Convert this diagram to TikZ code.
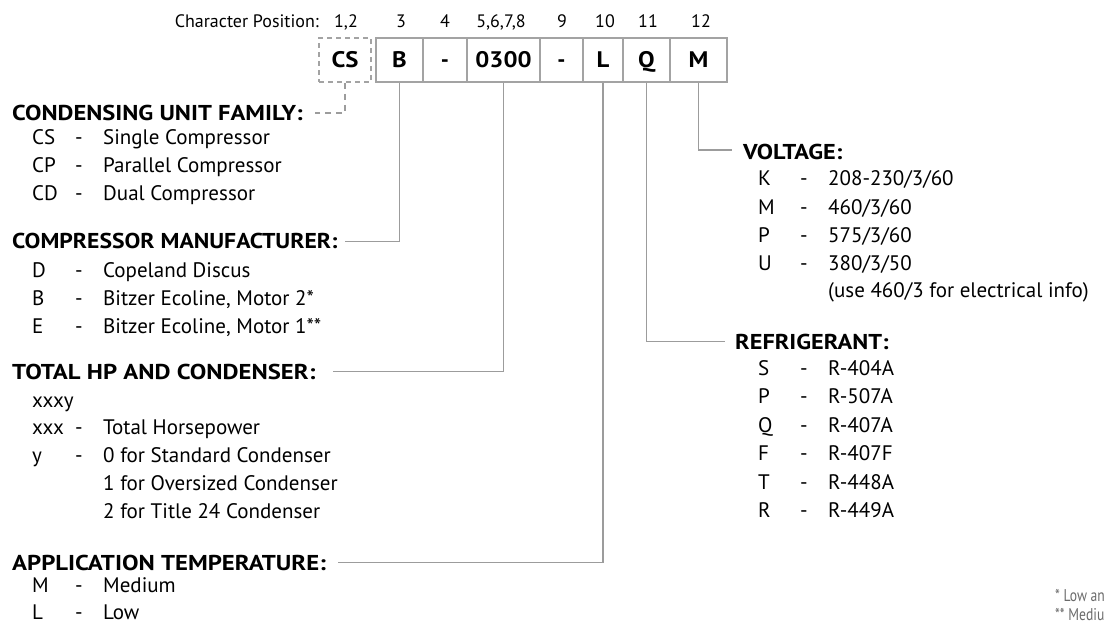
\documentclass[tikz,border=0pt]{standalone}
\usepackage{fontspec}
\setmainfont{PT Sans}
\definecolor{lgray}{HTML}{9C9C9C}
\definecolor{bgray}{HTML}{A3A3A3}
\definecolor{fgray}{HTML}{6A6A6A}
\newcommand\myrow[7]{%
  \node[txt] (#1a) at (#2,#5) {#6};
  \node[txt] (#1b) at (#3,#5) {-};
  \node[txt] (#1c) at (#4,#5) {#7};}
\newcommand\wide[2][1.13]{\scalebox{#1}[1]{#2}}
\begin{document}
\begin{tikzpicture}[x=1pt,y=-1pt,
  txt/.style={anchor=west, inner sep=0pt, font=\fontsize{21}{24}\selectfont, text height=14.5pt, text depth=0pt},
  ttl/.style={anchor=west, inner sep=0pt, font=\fontsize{21.5}{24}\selectfont\bfseries, text height=15pt, text depth=0pt},
  poslbl/.style={anchor=center, inner sep=0pt, font=\fontsize{18}{20}\selectfont, text height=12.5pt, text depth=0pt},
  cell/.style={draw=bgray, line width=1.7pt, minimum height=44pt, inner sep=0pt, font=\fontsize{22.5}{24}\selectfont\bfseries, text height=15.5pt, text depth=0pt},
  dcell/.style={cell, dash pattern=on 5pt off 4pt},
  conn/.style={draw=lgray, line width=1.5pt},
  dconn/.style={conn, dash pattern=on 6pt off 5pt},
  foot/.style={anchor=west, inner sep=0pt, text=fgray, font=\fontsize{17}{18}\selectfont, text height=12pt, text depth=0pt}]
\useasboundingbox (0,0) rectangle (1105,624);

% code boxes
\node[dcell, minimum width=52pt] (cCS) at (345,60) {\scalebox{1.1}[1]{CS}};
\node[cell, minimum width=47pt] (cB) at (399.5,60) {\scalebox{1.1}[1]{B}};
\node[cell, minimum width=44pt] (cD1) at (445,60) {-};
\node[cell, minimum width=73pt] (c0300) at (503.5,60) {\scalebox{1.1}[1]{0300}};
\node[cell, minimum width=43pt] (cD2) at (561.5,60) {-};
\node[cell, minimum width=40pt] (cL) at (603,60) {\scalebox{1.1}[1]{L}};
\node[cell, minimum width=47pt] (cQ) at (646.5,60) {\scalebox{1.1}[1]{Q}};
\node[cell, minimum width=57pt] (cM) at (698.5,60) {\scalebox{1.1}[1]{M}};

% character positions
\node[poslbl, anchor=east] (pch) at (319,21) {Character Position:};
\node[poslbl] (p12) at (346,21) {1,2};
\node[poslbl] (p3) at (401,21) {3};
\node[poslbl] (p4) at (445,21) {4};
\node[poslbl] (p58) at (501,21) {5,6,7,8};
\node[poslbl] (p9) at (562,21) {9};
\node[poslbl] (p10) at (605,21) {10};
\node[poslbl] (p11) at (648,21) {11};
\node[poslbl] (p12b) at (701,21) {12};

% left column
\node[ttl] (tfam) at (12,113) {\wide[1.14]{CONDENSING UNIT FAMILY:}};
\myrow{fa}{32}{75}{103}{137}{CS}{Single Compressor}
\myrow{fb}{32}{75}{103}{165}{CP}{Parallel Compressor}
\myrow{fc}{32}{75}{103}{193}{CD}{Dual Compressor}

\node[ttl] (tman) at (12,241) {\wide[1.1]{COMPRESSOR MANUFACTURER:}};
\myrow{ma}{32}{75}{103}{270}{D}{Copeland Discus}
\myrow{mb}{32}{75}{103}{298}{B}{Bitzer Ecoline, Motor 2*}
\myrow{mc}{32}{75}{103}{326}{E}{Bitzer Ecoline, Motor 1**}

\node[ttl] (thp) at (12,372) {\wide[1.15]{TOTAL HP AND CONDENSER:}};
\node[txt] (ha) at (32,400) {xxxy};
\myrow{hb}{32}{75}{103}{427}{xxx}{Total Horsepower}
\myrow{hc}{32}{75}{103}{455}{y}{0 for Standard Condenser}
\node[txt] (hd) at (103,483) {1 for Oversized Condenser};
\node[txt] (he) at (103,511) {2 for Title 24 Condenser};

\node[ttl] (tapp) at (12,563) {\wide[1.15]{APPLICATION TEMPERATURE:}};
\myrow{aa}{32}{75}{103}{585}{M}{Medium}
\myrow{ab}{32}{75}{103}{612}{L}{Low}

% right column
\node[ttl] (tvol) at (743,152) {\wide{VOLTAGE:}};
\myrow{va}{758}{800}{828}{178}{K}{208-230/3/60}
\myrow{vb}{758}{800}{828}{207}{M}{460/3/60}
\myrow{vc}{758}{800}{828}{235}{P}{575/3/60}
\myrow{vd}{758}{800}{828}{263}{U}{380/3/50}
\node[txt] (ve) at (828,290) {(use 460/3 for electrical info)};

\node[ttl] (tref) at (735,342) {\wide{REFRIGERANT:}};
\myrow{ra}{758}{800}{828}{368}{S}{R-404A}
\myrow{rb}{758}{800}{828}{396}{P}{R-507A}
\myrow{rc}{758}{800}{828}{425}{Q}{R-407A}
\myrow{rd}{758}{800}{828}{453}{F}{R-407F}
\myrow{re}{758}{800}{828}{482}{T}{R-448A}
\myrow{rf}{758}{800}{828}{510}{R}{R-449A}

% connector ends
\coordinate (eFam) at (315,113);
\coordinate (eMan) at (345,241.5);
\coordinate (eHP) at (333,371.5);
\coordinate (eApp) at (338,562.5);
\coordinate (eVol) at (732,150);
\coordinate (eRef) at (725,341.5);

\draw[dconn] (cCS.south) |- (eFam);
\draw[conn] (cB.south) |- (eMan);
\draw[conn] (c0300.south) |- (eHP);
\draw[conn] (cL.south) |- (eApp);
\draw[conn] (cM.south) |- (eVol);
\draw[conn] (cQ.south) |- (eRef);

% footnotes (cut by the page edge, as in the reference)
\begin{scope}
\clip (0,0) rectangle (1105,624);
\node[foot] (fn1) at (1055,595) {\scalebox{0.8}[1]{* Low and}};
\node[foot] (fn2) at (1055,614) {\scalebox{0.8}[1]{** Medium}};
\end{scope}
\end{tikzpicture}
\end{document}
